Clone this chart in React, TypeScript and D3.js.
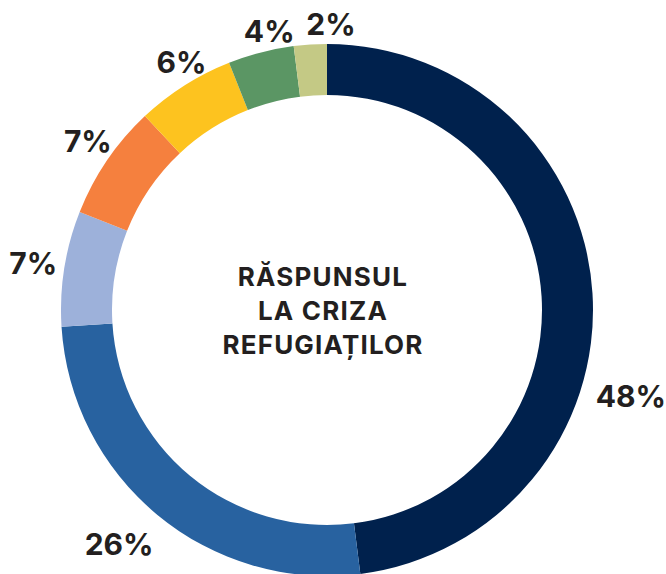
import * as d3 from "d3";

// slices, clockwise from 12 o'clock
const labels = ["48%", "26%", "7%", "7%", "6%", "4%", "2%"];
const values = [48, 26, 7, 7, 6, 4, 2];
const colors = ["#00214d", "#2862a0", "#9db1da", "#f5803e", "#fdc31f", "#5b9664", "#c4c985"];
const centerLines = ["RĂSPUNSUL", "LA CRIZA", "REFUGIAȚILOR"];

const width = 666;
const height = 574;
const cx = 327;
const cy = 310;
const outerR = 266;
const innerR = 215;

// label placement tweaks: angular (degrees) and radial (px) nudges
const labelAngleNudge = [19.4, 2, 0, 1, 2, 2.7, 4.4];
const labelRadiusNudge = [14, 15, 6, 0, -2, 0, 5];

export default function App() {
  const pie = d3.pie<number>().sort(null).value((d) => d);
  const arcs = pie(values);
  const arc = d3.arc<d3.PieArcDatum<number>>().innerRadius(innerR).outerRadius(outerR);

  const font = "Inter, 'Liberation Sans', Arial, sans-serif";

  return (
    <svg
      width={width}
      height={height}
      style={{ position: "absolute", left: 0, top: 0, background: "#fff" }}
    >
      <g transform={`translate(${cx},${cy})`}>
        {arcs.map((a, i) => (
          <path key={i} d={arc(a) || ""} fill={colors[i]} />
        ))}
        {arcs.map((a, i) => {
          const ang = (a.startAngle + a.endAngle) / 2 + (labelAngleNudge[i] * Math.PI) / 180;
          const w = labels[i].length * 20;
          const h = 22;
          const r =
            270 +
            labelRadiusNudge[i] +
            (w / 2) * Math.abs(Math.sin(ang)) +
            (h / 2) * Math.abs(Math.cos(ang));
          const [x, y] = d3.pointRadial(ang, r);
          return (
            <text
              key={i}
              x={x}
              y={y}
              dy="0.36em"
              textAnchor="middle"
              fontFamily={font}
              fontWeight={700}
              fontSize={30}
              fill="#231f20"
            >
              {labels[i]}
            </text>
          );
        })}
        <text
          textAnchor="middle"
          fontFamily={font}
          fontWeight={700}
          fontSize={26}
          letterSpacing={1.2}
          fill="#231f20"
        >
          {centerLines.map((t, i) => (
            <tspan key={i} x={-4} y={-24 + i * 34}>
              {t}
            </tspan>
          ))}
        </text>
      </g>
    </svg>
  );
}
